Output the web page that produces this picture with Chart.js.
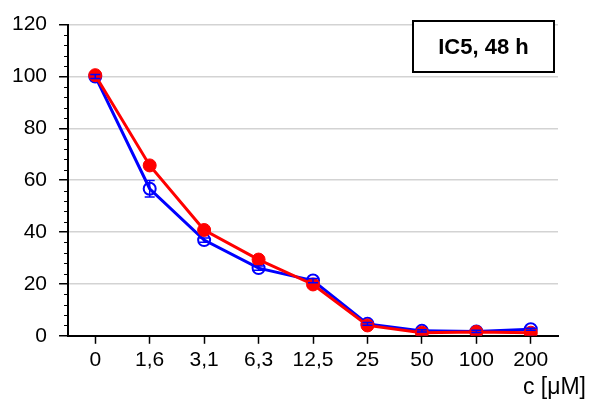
<!DOCTYPE html>
<html><head><meta charset="utf-8">
<script src="https://cdn.jsdelivr.net/npm/chart.js@4/dist/chart.umd.min.js"></script>
<style>html,body{margin:0;padding:0;background:#fff}canvas{display:block}</style>
</head><body>
<canvas id="c" width="589" height="406"></canvas>
<script>
const categories = ['0','1,6','3,1','6,3','12,5','25','50','100','200'];
const blueValues = [100, 56.7, 36.9, 26.1, 21.3, 4.6, 1.9, 1.7, 2.5];
const blueErrors = [0.8, 3.2, 0.8, 0.8, 0.8, 0.5, 0.4, 0.4, 0.4];
const redValues  = [100.5, 65.7, 40.8, 29.4, 19.8, 4.0, 1.2, 1.5, 1.2];
const yTicks = [0, 20, 40, 60, 80, 100, 120];
const boxLabel = 'IC5, 48 h';
const xTitle = 'c [μM]';

const FONT = '"Liberation Sans", Arial, sans-serif';

const extras = {
  id: 'extras',
  afterDatasetsDraw(chart) {
    const ctx = chart.ctx, xs = chart.scales.x, ys = chart.scales.y;
    ctx.save();
    ctx.strokeStyle = '#0000ff'; ctx.lineWidth = 1.5;
    blueValues.forEach((v, i) => {
      const x = xs.getPixelForValue(i);
      const yt = ys.getPixelForValue(v + blueErrors[i]);
      const yb = ys.getPixelForValue(v - blueErrors[i]);
      ctx.beginPath();
      ctx.moveTo(x, yt); ctx.lineTo(x, yb);
      ctx.moveTo(x - 5, yt); ctx.lineTo(x + 5, yt);
      ctx.moveTo(x - 5, yb); ctx.lineTo(x + 5, yb);
      ctx.stroke();
    });
    ctx.restore();
  },
  afterDraw(chart) {
    const ctx = chart.ctx, ys = chart.scales.y, a = chart.chartArea;
    ctx.save();
    ctx.strokeStyle = '#000'; ctx.lineWidth = 1;
    for (let v = 0; v <= 120; v += 4) {
      if (v % 20 === 0) continue;
      const y = Math.round(ys.getPixelForValue(v)) + 0.5;
      ctx.beginPath(); ctx.moveTo(a.left - 4, y); ctx.lineTo(a.left, y); ctx.stroke();
    }
    const bx = 413, by = 21, bw = 141, bh = 51;
    ctx.fillStyle = '#fff'; ctx.fillRect(bx, by, bw, bh);
    ctx.strokeStyle = '#000'; ctx.lineWidth = 2; ctx.strokeRect(bx, by, bw, bh);
    ctx.fillStyle = '#000';
    ctx.font = 'bold 22px ' + FONT;
    ctx.textAlign = 'center'; ctx.textBaseline = 'middle';
    ctx.fillText(boxLabel, bx + bw / 2, by + bh / 2 + 1);
    ctx.font = '23px ' + FONT;
    ctx.textAlign = 'right'; ctx.textBaseline = 'middle';
    ctx.fillText(xTitle, 586, 388);
    ctx.restore();
  }
};

new Chart(document.getElementById('c'), {
  type: 'line',
  data: {
    labels: categories,
    datasets: [
      {
        label: 'blue', data: blueValues,
        borderColor: '#0000ff', borderWidth: 3,
        pointStyle: 'circle', pointRadius: 6, pointBorderWidth: 2,
        pointBorderColor: '#0000ff', pointBackgroundColor: 'rgba(0,0,0,0)',
        tension: 0, order: 2
      },
      {
        label: 'red', data: redValues,
        borderColor: '#ff0000', borderWidth: 3,
        pointStyle: 'circle', pointRadius: 6.5, pointBorderWidth: 1,
        pointBorderColor: '#ff0000', pointBackgroundColor: '#ff0000',
        tension: 0, order: 1
      }
    ]
  },
  options: {
    responsive: false,
    animation: false,
    layout: { padding: { left: 0, right: 31, top: 7, bottom: 29 } },
    plugins: { legend: { display: false }, tooltip: { enabled: false } },
    scales: {
      x: {
        type: 'category',
        offset: true,
        grid: { display: true, drawOnChartArea: false, drawTicks: true, tickLength: 8, tickColor: '#000', tickWidth: 1.5 },
        border: { color: '#000', width: 2 },
        ticks: { color: '#000', font: { family: FONT, size: 21 }, padding: 4, maxRotation: 0, autoSkip: false }
      },
      y: {
        min: 0, max: 120,
        afterBuildTicks(scale) { scale.ticks = yTicks.map(v => ({ value: v })); },
        grid: { color: '#d3d3d3', lineWidth: 1.5, tickLength: 9, tickColor: '#000', tickWidth: 1.5 },
        border: { color: '#000', width: 2 },
        ticks: { color: '#000', font: { family: FONT, size: 21 }, padding: 12 }
      }
    }
  },
  plugins: [extras]
});
</script>
</body></html>
